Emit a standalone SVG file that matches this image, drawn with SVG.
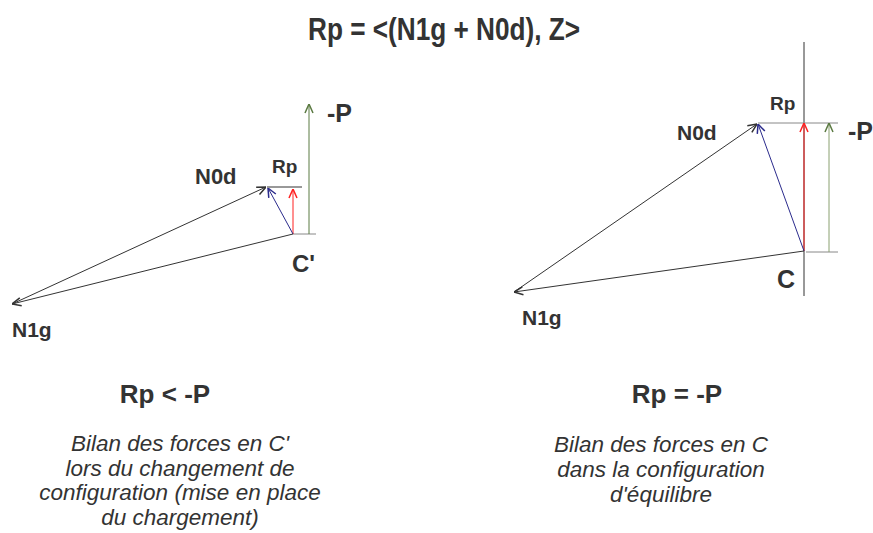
<svg xmlns="http://www.w3.org/2000/svg" width="873" height="533" viewBox="0 0 873 533">
<style>
.t{font-family:"Liberation Sans",Arial,sans-serif;font-weight:bold;fill:#333}
.i{font-family:"Liberation Sans",Arial,sans-serif;font-style:italic;fill:#333;font-size:22.5px;text-anchor:middle}
.ln{fill:none;stroke-width:1}
</style>
<defs>
<marker id="ak" viewBox="0 0 10 10" refX="10" refY="5" markerWidth="10" markerHeight="10" markerUnits="userSpaceOnUse" orient="auto"><path d="M1,1 L10,5 L1,9" fill="none" stroke="#333" stroke-width="1.5"/></marker>
<marker id="ab" viewBox="0 0 10 10" refX="10" refY="5" markerWidth="10" markerHeight="10" markerUnits="userSpaceOnUse" orient="auto"><path d="M1,1 L10,5 L1,9" fill="none" stroke="#2b2b8c" stroke-width="1.5"/></marker>
<marker id="ar" viewBox="0 0 10 10" refX="10" refY="5" markerWidth="10" markerHeight="10" markerUnits="userSpaceOnUse" orient="auto"><path d="M1,1 L10,5 L1,9" fill="none" stroke="#ff2020" stroke-width="1.5"/></marker>
<marker id="ag" viewBox="0 0 10 10" refX="10" refY="5" markerWidth="10" markerHeight="10" markerUnits="userSpaceOnUse" orient="auto"><path d="M1,1 L10,5 L1,9" fill="none" stroke="#5b7a42" stroke-width="1.5"/></marker>
</defs>
<rect width="873" height="533" fill="#fff"/>
<text id="title" class="t" x="308" y="40" font-size="32" textLength="272" lengthAdjust="spacingAndGlyphs">Rp = &lt;(N1g + N0d), Z&gt;</text>

<g id="connectors">
<!-- left -->
<line class="ln" x1="293" y1="234" x2="316" y2="234" stroke="#888" stroke-width="1.5"/>
<line class="ln" x1="267" y1="187" x2="302" y2="187" stroke="#333"/>
<line class="ln" x1="309" y1="234" x2="309" y2="104" stroke="#5b7a42" marker-end="url(#ag)"/>
<line class="ln" x1="293" y1="234" x2="293" y2="189" stroke="#ff2020" marker-end="url(#ar)"/>
<line class="ln" x1="293" y1="234" x2="268" y2="188" stroke="#2b2b8c" marker-end="url(#ab)"/>
<line class="ln" x1="293" y1="234" x2="12" y2="304" stroke="#333" marker-end="url(#ak)"/>
<line class="ln" x1="12" y1="304" x2="266" y2="187" stroke="#333" marker-end="url(#ak)"/>
<!-- right -->
<line class="ln" x1="804" y1="42" x2="804" y2="296" stroke="#333"/>
<line class="ln" x1="806" y1="252" x2="838" y2="252" stroke="#888"/>
<line class="ln" x1="758" y1="123" x2="838" y2="123" stroke="#888"/>
<line class="ln" x1="804" y1="251" x2="804" y2="123" stroke="#ff2020" stroke-width="2" marker-end="url(#ar)"/>
<line class="ln" x1="829" y1="252" x2="829" y2="123" stroke="#8aa070" marker-end="url(#ag)"/>
<line class="ln" x1="804" y1="251" x2="758" y2="124" stroke="#2b2b8c" marker-end="url(#ab)"/>
<line class="ln" x1="804" y1="251" x2="514" y2="292" stroke="#333" marker-end="url(#ak)"/>
<line class="ln" x1="514" y1="292" x2="757" y2="124" stroke="#333" marker-end="url(#ak)"/>
</g>

<g id="left-labels">
<text class="t" x="327" y="122" font-size="25">-P</text>
<text class="t" x="272" y="173" font-size="19">Rp</text>
<text class="t" x="195" y="184" font-size="22">N0d</text>
<text class="t" x="292" y="272" font-size="24">C'</text>
<text class="t" x="12" y="337" font-size="21">N1g</text>
</g>
<g id="right-labels">
<text class="t" x="770" y="110" font-size="19">Rp</text>
<text class="t" x="848" y="140" font-size="25">-P</text>
<text class="t" x="677" y="140" font-size="21">N0d</text>
<text class="t" x="777" y="288" font-size="25">C</text>
<text class="t" x="522" y="325" font-size="21">N1g</text>
</g>

<g id="left-caption">
<text class="t" x="165" y="403" font-size="26" text-anchor="middle">Rp &lt; -P</text>
<text class="i" x="180" y="451">Bilan des forces en C'</text>
<text class="i" x="180" y="476">lors du changement de</text>
<text class="i" x="180" y="500">configuration (mise en place</text>
<text class="i" x="180" y="525">du chargement)</text>
</g>
<g id="right-caption">
<text class="t" x="677" y="403" font-size="26" text-anchor="middle">Rp = -P</text>
<text class="i" x="661" y="452">Bilan des forces en C</text>
<text class="i" x="661" y="477">dans la configuration</text>
<text class="i" x="661" y="502">d'équilibre</text>
</g>
</svg>
